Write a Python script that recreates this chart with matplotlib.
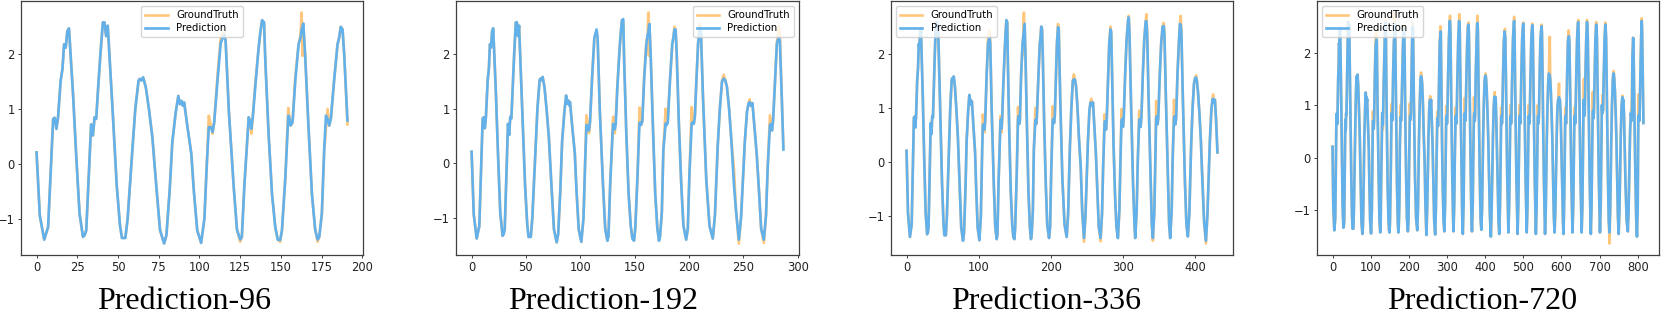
import matplotlib
matplotlib.use('Agg')
import matplotlib.pyplot as plt
from matplotlib.ticker import MultipleLocator

# horizons shown in the four panels (input window is 96 steps)
horizons = [96, 192, 336, 720]
input_len = 96
captions = ['Prediction-96', 'Prediction-192', 'Prediction-336', 'Prediction-720']
xtick_step = [25, 50, 100, 100]
legend_loc = ['upper center', 'upper right', 'upper left', 'upper left']
caption_x = [184, 603, 1046, 1482]  # pixel centres of the captions

# ground truth (history + future), read at turning points, one row per day
gt_t = [
    0, 2, 4.7, 7.1, 10.2, 11.2, 12.2, 13.2, 14.8, 15.9, 16.9, 17.9, 18.9, 19.9, 22.4, 24.4, 26.4,
    28.5, 29.5, 30.5, 33.5, 34.6, 35.6, 36.6, 38.0, 39.2, 40.7, 41.7, 42.7, 43.7, 44.7, 46.7, 49.2, 51.2, 52.4,
    54.5, 55.9, 58.9, 60.6, 62.6, 63.4, 64.4, 65.4, 67.1, 69.1, 71.1, 73.2, 75.8,
    78.3, 79.7, 81.7, 83.3, 85.4, 87.0, 88.0, 89.0, 89.8, 90.6, 92.5, 95.0,
    96.5, 98.6, 101, 103, 104.5, 105.7, 107, 108, 109, 111, 113, 115, 116, 118, 121, 123,
    125, 126, 127.6, 130.2, 131, 131.8, 132.7, 134.1, 136.1, 137.3, 138.4, 139.6, 140.4, 142.4, 144.5, 146.5, 148,
    149.5, 150.6, 152.7, 154.5, 155.1, 155.9, 157.1, 158.8, 160.8, 162, 162.7, 163.2, 163.7, 164.9, 166.9, 169, 171,
    172.5, 173.5, 175.1, 176.5, 178.6, 179.6, 180.6, 182.7, 184.7, 185.7, 186.7, 187.8, 188.8, 190.8, 193, 195,
    197.5, 199, 200.5, 202.6, 203.5, 204.5, 205.5, 207, 208.5, 210, 211, 213, 216, 219,
    222, 224, 226.5, 228.5, 230.5, 232, 233.5, 235, 237, 239, 241.5, 243.5,
    246, 248, 250, 251.5, 253.5, 255, 256, 257, 258.5, 260, 262.5, 264.5, 266.5,
    269, 271, 272.5, 274.6, 275.5, 276.5, 277.5, 279.5, 281, 282.7, 283.7, 285.5, 287, 289, 291,
    293, 295, 296.5, 298, 299, 300, 301, 303, 305, 307, 308, 309, 311, 314, 316,
    317, 319, 320.5, 322.5, 323.5, 324.5, 325.5, 327.5, 329.5, 331.5, 332.5, 333.5, 335.5, 338.5, 340,
    341.5, 343.5, 345, 346, 347, 348, 349, 351, 353, 355, 356.5, 357.5, 359.5, 362.5, 364,
    365.5, 367.5, 369, 370.8, 371.8, 372.8, 373.8, 375.5, 377.5, 379, 380, 381, 383, 386, 388,
    390, 392, 394.5, 396.5, 398.5, 400, 401.4, 402.5, 404, 406, 408, 410, 412.5,
    415, 417, 419, 420.5, 422.5, 424, 425, 426, 427.5, 429, 431, 433, 435,
    437, 439, 440.5, 442, 443, 444, 445, 447, 449, 451, 452, 453, 455, 458, 460,
    461, 463, 464.5, 466, 467, 468, 469, 471, 473, 475, 476, 477, 479, 482, 484,
    485, 487, 488.5, 490, 491, 492, 493, 495, 497, 499, 500, 501, 503, 506, 508,
    509, 511, 512.5, 514, 515, 516, 517, 519, 521, 523, 524, 525, 527, 530, 532,
    533, 535, 536.5, 538, 539, 540, 541, 543, 545, 547, 548, 549, 551, 554, 556,
    557, 559, 561.5, 563.5, 565.5, 567, 569.5, 570.5, 572, 574, 576, 578, 580,
    582, 584, 586, 587.5, 589.5, 591.5, 593.7, 594.5, 596, 598, 600, 602, 604,
    605.5, 607, 608.5, 610, 611, 612, 613, 615, 617, 619, 620, 621, 623, 626, 628,
    629, 631, 632.5, 634, 635, 636, 637, 639, 641, 643, 644, 645, 647, 650, 652,
    653, 655, 656.5, 658, 659, 660, 661, 663, 665, 667, 668, 669, 671, 674, 676,
    677, 679, 680.5, 682, 683, 684, 685, 687, 689, 691, 692, 693, 695, 698, 700,
    701, 703, 704.5, 706, 707, 708, 709, 711, 713, 715, 716, 717, 719, 722, 724,
    726, 728, 730.5, 732.5, 734.5, 736, 737, 738.5, 740, 742, 744, 746, 748,
    750, 752, 754, 755.5, 757.5, 759, 760, 761, 762.5, 764, 766, 768, 771,
    774, 776, 778, 780, 782, 784, 785, 786, 788, 789, 791, 794, 796,
    798, 800, 801.6, 803, 804, 805, 807, 809, 810.5, 811.5, 813, 815,
]
gt_v = [
    0.21, -0.94, -1.38, -1.15, 0.82, 0.84, 0.64, 0.85, 1.52, 1.73, 2.18, 2.12, 2.42, 2.47, 1.27, 0.12, -0.91,
    -1.33, -1.30, -1.21, 0.72, 0.52, 0.85, 0.82, 1.48, 2.00, 2.58, 2.58, 2.33, 2.52, 2.00, 0.97, -0.39, -1.12, -1.35,
    -1.35, -1.00, 0.30, 1.00, 1.52, 1.55, 1.52, 1.58, 1.39, 0.97, 0.48, -0.30, -1.21,
    -1.45, -1.30, -0.48, 0.39, 0.94, 1.24, 1.09, 1.15, 1.06, 1.12, 0.70, 0.18,
    -0.48, -1.21, -1.44, -1.00, 0.00, 0.88, 0.70, 0.55, 0.75, 1.60, 2.30, 2.42, 2.28, 0.97, -0.42, -1.20,
    -1.42, -1.33, -0.36, 0.85, 0.79, 0.55, 0.85, 1.42, 2.06, 2.39, 2.62, 2.58, 1.88, 0.55, -0.55, -1.15, -1.38,
    -1.42, -1.21, -0.24, 1.02, 0.85, 0.70, 0.76, 1.60, 2.18, 2.35, 2.76, 1.97, 2.56, 1.94, 0.67, -0.55, -1.20,
    -1.42, -1.33, -0.90, 0.24, 1.00, 0.70, 0.82, 1.55, 2.18, 2.30, 2.50, 2.45, 2.00, 0.72, -0.40, -1.15,
    -1.40, -1.20, -0.20, 1.03, 0.80, 0.72, 0.85, 1.55, 2.20, 2.55, 2.45, 1.20, -0.30, -1.15,
    -1.38, -0.95, 0.30, 1.00, 1.50, 1.62, 1.52, 1.40, 1.00, 0.45, -0.10, -0.90,
    -1.47, -1.00, -0.20, 0.40, 0.95, 1.10, 1.17, 1.05, 1.10, 0.75, 0.15, -0.50, -1.20,
    -1.46, -0.95, -0.10, 0.88, 0.75, 0.60, 0.78, 1.60, 2.20, 2.50, 2.40, 1.20, 0.30, -0.60, -1.20,
    -1.40, -0.90, 0.00, 0.98, 0.80, 0.65, 0.80, 1.60, 2.25, 2.60, 2.70, 2.40, 1.20, -0.40, -1.15,
    -1.40, -0.90, 0.00, 0.95, 0.80, 0.65, 0.80, 1.60, 2.25, 2.60, 2.73, 2.40, 1.20, -0.40, -1.15,
    -1.45, -0.90, 0.10, 1.13, 0.85, 0.70, 0.82, 1.60, 2.20, 2.50, 2.57, 2.35, 1.20, -0.40, -1.15,
    -1.40, -0.90, 0.10, 1.15, 0.85, 0.70, 0.82, 1.60, 2.20, 2.55, 2.70, 2.40, 1.20, -0.40, -1.15,
    -1.37, -0.95, 0.30, 1.00, 1.45, 1.55, 1.60, 1.50, 1.30, 0.90, 0.40, -0.30, -1.10,
    -1.50, -1.00, -0.20, 0.40, 0.95, 1.15, 1.25, 1.10, 1.15, 0.80, 0.18, -0.50, -1.20,
    -1.45, -0.90, 0.00, 0.95, 0.80, 0.65, 0.80, 1.60, 2.20, 2.40, 2.45, 2.30, 1.20, -0.40, -1.15,
    -1.42, -0.90, 0.00, 1.00, 0.80, 0.65, 0.80, 1.60, 2.25, 2.55, 2.68, 2.40, 1.20, -0.40, -1.15,
    -1.45, -0.90, 0.00, 1.00, 0.80, 0.65, 0.80, 1.60, 2.25, 2.50, 2.57, 2.35, 1.20, -0.40, -1.15,
    -1.42, -0.90, 0.00, 1.00, 0.80, 0.65, 0.80, 1.60, 2.25, 2.50, 2.55, 2.35, 1.20, -0.40, -1.15,
    -1.45, -0.90, 0.00, 1.00, 0.80, 0.65, 0.80, 1.60, 2.25, 2.45, 2.53, 2.35, 1.20, -0.40, -1.15,
    -1.45, -0.95, 0.30, 1.00, 1.45, 1.60, 2.30, 1.55, 1.30, 0.90, 0.40, -0.30, -1.10,
    -1.42, -1.00, -0.20, 0.40, 0.95, 1.10, 1.41, 1.10, 1.10, 0.80, 0.18, -0.50, -1.20,
    -1.45, -0.90, 0.00, 0.95, 0.80, 0.65, 0.80, 1.60, 2.20, 2.42, 2.30, 2.15, 1.20, -0.40, -1.15,
    -1.42, -0.90, 0.00, 0.95, 0.80, 0.65, 0.80, 1.60, 2.25, 2.55, 2.62, 2.40, 1.20, -0.40, -1.15,
    -1.42, -0.90, 0.20, 1.10, 1.50, 0.90, 0.80, 1.60, 2.25, 2.62, 2.50, 2.30, 1.20, -0.40, -1.15,
    -1.45, -0.90, 0.10, 1.25, 0.90, 0.75, 0.85, 1.60, 2.25, 2.58, 2.45, 2.30, 1.20, -0.40, -1.15,
    -1.42, -0.90, 0.10, 1.00, 0.85, 1.20, 0.90, 1.60, 2.25, 2.57, 2.45, 2.30, 1.20, -0.40, -1.20,
    -1.63, -0.95, 0.30, 1.00, 1.45, 1.60, 1.65, 1.50, 1.30, 0.90, 0.40, -0.30, -1.10,
    -1.45, -1.00, -0.20, 0.40, 0.95, 1.10, 1.18, 1.05, 1.10, 0.80, 0.18, -0.50, -1.20,
    -1.40, -1.00, -0.20, 0.50, 0.85, 0.97, 1.30, 1.90, 2.28, 2.10, 1.00, -0.40, -1.15,
    -1.50, -0.90, 1.20, 0.80, 0.70, 0.85, 1.60, 2.30, 2.65, 2.40, 1.60, 0.66,
]

# predictions follow the truth closely; these are the points where the blue line departs
pred96_t = [105.7, 107, 108, 111, 113, 115, 116, 125, 131.8, 134.1, 149.5, 154.5, 158.8,
            162, 162.7, 163.2, 163.7, 172.5, 177.6, 178.6, 179.6, 190.8]
pred96_v = [0.67, 0.67, 0.58, 1.50, 2.20, 2.36, 2.25, -1.38, 0.64, 1.36, -1.39, 0.88, 1.52,
            2.30, 2.45, 2.50, 2.56, -1.38, 0.88, 0.82, 0.70, 0.79]

pred192_t = [105.7, 107, 108, 115, 116, 130.2, 131, 131.8, 132.7, 134.1, 139.6, 154.5, 155.1,
             158.8, 162.7, 163.2, 163.7, 178.6, 180.6, 186.7, 202.6, 203.5, 210, 232, 241.5,
             246, 256, 269, 274.6, 275.5, 282.7, 283.7, 287]
pred192_v = [0.70, 0.68, 0.60, 2.45, 2.30, 0.72, 0.70, 0.62, 0.72, 1.36, 2.64, 0.73, 0.75,
             1.52, 2.40, 2.50, 2.55, 0.73, 0.75, 2.45, 0.73, 0.75, 2.48, 1.55, -0.40,
             -1.40, 1.12, -1.40, 0.70, 0.72, 2.30, 2.25, 0.25]

pred336_t = [105.7, 108, 113, 115, 116, 130.2, 131.8, 154.5, 162.7, 163.2, 163.7, 178.6, 202.6,
             210, 232, 246, 256, 269, 274.6, 282.7, 298, 308, 322.5, 332.5, 341.5, 346,
             356.5, 370.8, 380, 401.4, 415, 425]
pred336_v = [0.68, 0.60, 2.20, 2.30, 2.20, 0.75, 0.62, 0.78, 2.45, 2.50, 2.55, 0.78, 0.78,
             2.49, 1.53, -1.40, 1.10, -1.40, 0.75, 2.45, 0.78, 2.67, 0.76, 2.60, -1.40, 0.80,
             2.51, 0.82, 2.54, 1.56, -1.45, 1.17]

pred720_t = [105.7, 113, 115, 116, 131.8, 138.4, 154.5, 162.7, 163.2, 163.7, 178.6, 186.7,
             202.6, 210, 232, 256, 274.6, 282.7, 298, 308, 322.5, 332.5, 346, 356.5,
             370.8, 380, 401.4, 425, 442, 452, 466, 476, 490, 500, 514, 524, 538, 548,
             569.5, 570.5, 593.7, 610, 619, 634, 644, 659, 667, 682, 691, 708, 715,
             726, 737, 760, 784, 785, 788, 801.6, 810.5]
pred720_v = [0.70, 2.15, 2.25, 2.20, 0.62, 2.55, 0.78, 2.45, 2.50, 2.55, 0.78, 2.45,
             0.78, 2.50, 1.55, 1.10, 0.75, 2.31, 0.78, 2.60, 0.76, 2.56, 0.80, 2.53,
             0.82, 2.56, 1.56, 1.16, 0.75, 2.31, 0.78, 2.60, 0.78, 2.55, 0.78, 2.52, 0.78, 2.50,
             1.56, 1.50, 1.15, 0.75, 2.31, 0.78, 2.58, 0.85, 2.58, 0.85, 2.53, 0.85, 2.53,
             -1.42, 1.60, 1.15, 0.70, 0.85, 2.28, 0.80, 2.60]

pred_t = [pred96_t, pred192_t, pred336_t, pred720_t]
pred_v = [pred96_v, pred192_v, pred336_v, pred720_v]

gt_color = '#FFC67C'
pred_color = '#62B1EA'


def series_upto(limit, over_t=None, over_v=None):
    pts = {t: v for t, v in zip(gt_t, gt_v) if t <= limit}
    if over_t is not None:
        pts.update(zip(over_t, over_v))
    ts = sorted(pts)
    return ts, [pts[t] for t in ts]


W, H = 1661, 313
fig = plt.figure(figsize=(W / 100, H / 100), dpi=100)
lefts = [21, 456, 891, 1317]
rights = [363, 799, 1233, 1659]
top, bottom = 1, 255

for i, h in enumerate(horizons):
    ax = fig.add_axes([lefts[i] / W, (H - bottom) / H,
                       (rights[i] - lefts[i]) / W, (bottom - top) / H])
    last = input_len + h - 1
    t_gt, v_gt = series_upto(last)
    t_pd, v_pd = series_upto(last, pred_t[i], pred_v[i])
    ax.plot(t_gt, v_gt, color=gt_color, lw=1.9, label='GroundTruth')
    ax.plot(t_pd, v_pd, color=pred_color, lw=1.9, label='Prediction')
    ax.xaxis.set_major_locator(MultipleLocator(xtick_step[i]))
    ax.set_yticks([-1, 0, 1, 2])
    ax.tick_params(labelsize=8.3, length=2.5, width=0.6, pad=2, colors='#222222')
    for s in ax.spines.values():
        s.set_color('#404040')
        s.set_linewidth(0.9)
    ax.legend(loc=legend_loc[i], fontsize=7.3, handlelength=2.2,
              borderpad=0.4, labelspacing=0.3, framealpha=0.8)
    fig.text(caption_x[i] / W, 0.012, captions[i], ha='center', va='baseline',
             fontsize=23, family='Liberation Serif')

fig.savefig('out.png', dpi=100)
